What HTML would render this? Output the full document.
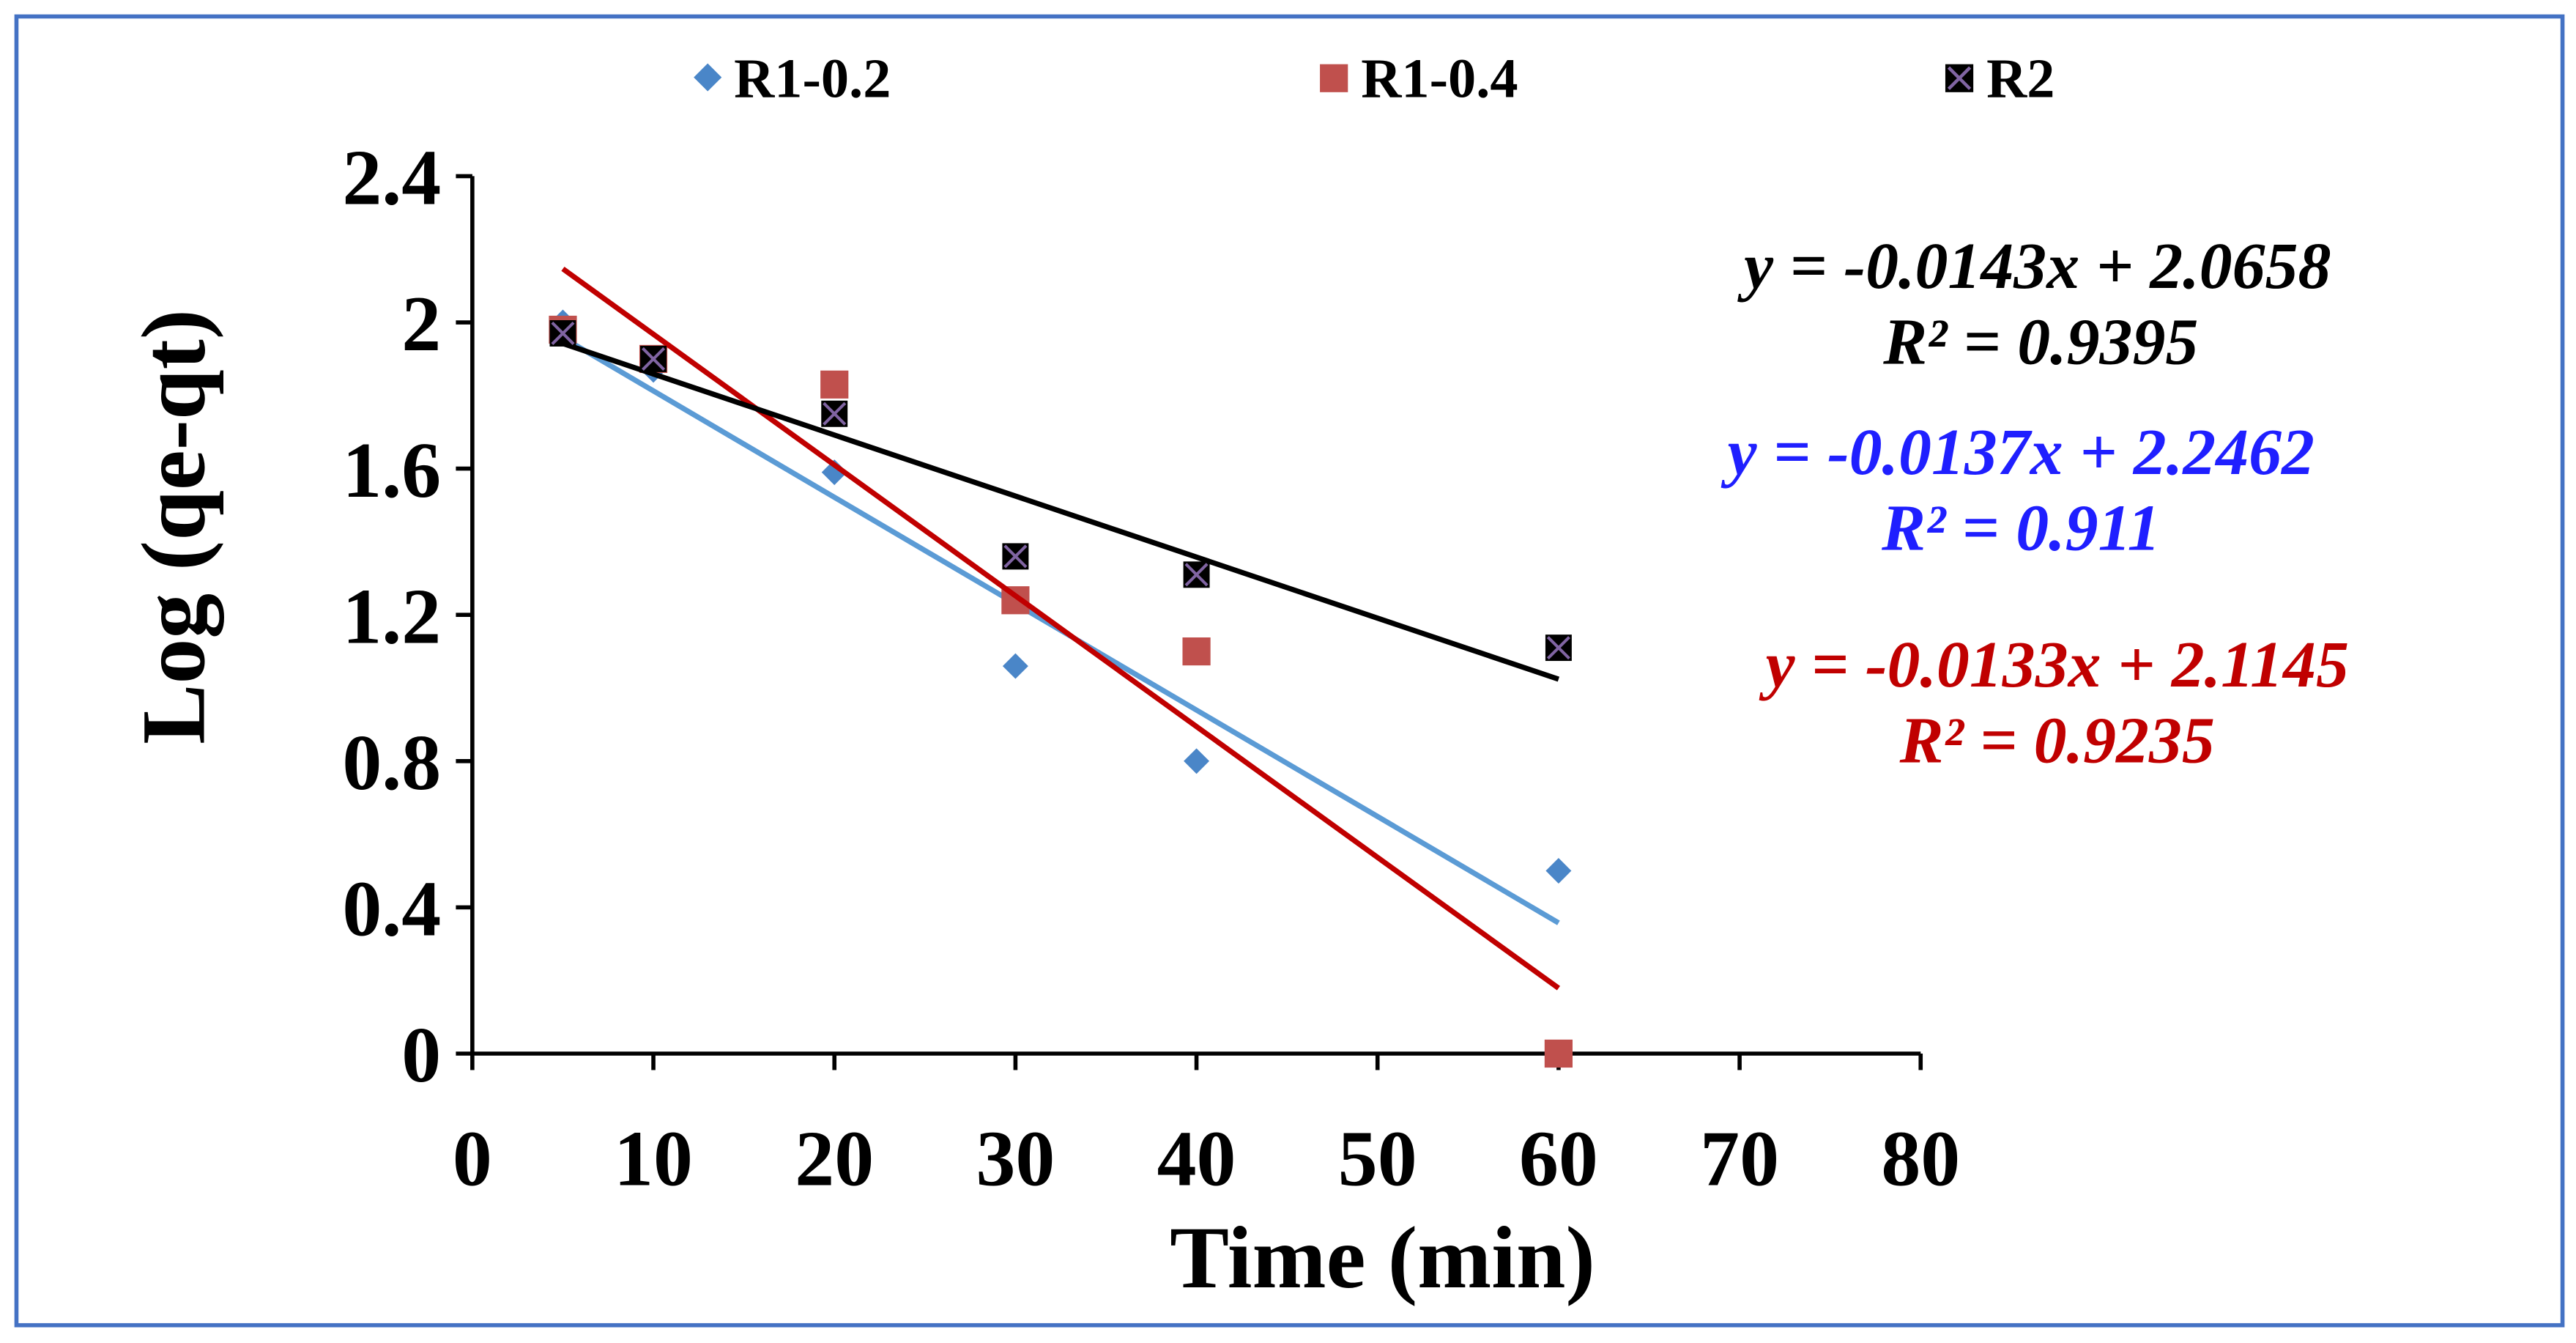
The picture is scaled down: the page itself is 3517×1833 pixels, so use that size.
<!DOCTYPE html>
<html><head><meta charset="utf-8"><style>
html,body{margin:0;padding:0;background:#fff;}
svg{display:block;}
text{font-family:"Liberation Serif",serif;font-weight:bold;}
</style></head><body>
<svg id="chart" width="3517" height="1833" viewBox="0 0 1565.2 815.8" preserveAspectRatio="none">
<rect x="10" y="10" width="1547" height="795" fill="#fff" stroke="#4472C4" stroke-width="2.5"/>
<g id="axes"></g>
<g id="marks"></g>
<g>
 <rect x="424" y="41" width="12" height="12" fill="#4A86C8" transform="rotate(45 430 47)"/>
 <text x="446" y="59" font-size="34">R1-0.2</text>
 <rect x="802" y="39" width="17" height="17" fill="#C0504D"/>
 <text x="827" y="59" font-size="34">R1-0.4</text>
 <rect x="1182" y="39" width="17" height="17" fill="#000"/>
 <path d="M1184 41L1197 54M1197 41L1184 54" stroke="#8064A2" stroke-width="2"/>
 <text x="1207" y="59" font-size="34">R2</text>
</g>
<g font-style="italic" font-size="40" text-anchor="middle">
 <text x="1238" y="175" fill="#000">y = -0.0143x + 2.0658</text>
 <text x="1240" y="221" fill="#000">R² = 0.9395</text>
 <text x="1228" y="288" fill="#1F1FFF">y = -0.0137x + 2.2462</text>
 <text x="1228" y="334" fill="#1F1FFF">R² = 0.911</text>
 <text x="1250" y="417" fill="#C00000">y = -0.0133x + 2.1145</text>
 <text x="1250" y="463" fill="#C00000">R² = 0.9235</text>
</g>
<text x="840" y="782" font-size="54" text-anchor="middle">Time (min)</text>
<text transform="translate(124 320) rotate(-90)" font-size="55" text-anchor="middle">Log (qe-qt)</text>
</svg>
<script>
const xTicks=[0,10,20,30,40,50,60,70,80];
const yTicks=[0,0.4,0.8,1.2,1.6,2,2.4];
const yTickLabels=["0","0.4","0.8","1.2","1.6","2","2.4"];
const times=[5,10,20,30,40,60];
const r1_02=[2.0,1.87,1.59,1.06,0.80,0.50];
const r1_04=[1.98,1.90,1.83,1.24,1.10,0.0];
const r2=[1.97,1.90,1.75,1.36,1.31,1.11];

const NS="http://www.w3.org/2000/svg";
const X=v=>287+v*(1167-287)/80;
const Y=v=>640-v*(640-107)/2.4;
const axes=document.getElementById('axes');
const marks=document.getElementById('marks');
function mk(tag,attrs,parent){const e=document.createElementNS(NS,tag);for(const k in attrs)e.setAttribute(k,attrs[k]);parent.appendChild(e);return e;}

let a=mk('line',{x1:X(0),y1:Y(0),x2:X(80),y2:Y(0),stroke:'#000','stroke-width':2.5},axes);


a=mk('line',{x1:X(0),y1:Y(0),x2:X(0),y2:Y(2.4),stroke:'#000','stroke-width':2.5},axes);


xTicks.forEach(t=>{
 const l=mk('line',{x1:X(t),y1:Y(0),x2:X(t),y2:Y(0)+10,stroke:'#000','stroke-width':2.5},axes);
 
 
 const tx=mk('text',{x:X(t),y:720,'font-size':48,'text-anchor':'middle'},axes);tx.textContent=t;
 
 
});
yTicks.forEach((t,i)=>{
 const l=mk('line',{x1:X(0)-10,y1:Y(t),x2:X(0),y2:Y(t),stroke:'#000','stroke-width':2.5},axes);
 
 
 const tx=mk('text',{x:268,y:Y(t)+17,'font-size':48,'text-anchor':'end'},axes);tx.textContent=yTickLabels[i];
 
 
});
function fit(xs,ys){const n=xs.length;const mx=xs.reduce((s,v)=>s+v,0)/n,my=ys.reduce((s,v)=>s+v,0)/n;let sxy=0,sxx=0;xs.forEach((x,i)=>{sxy+=(x-mx)*(ys[i]-my);sxx+=(x-mx)*(x-mx);});const m=sxy/sxx;return [m,my-m*mx];}
function trend(ys,color,name){const [m,b]=fit(times,ys);const x0=times[0],x1=times[times.length-1];
 const l=mk('line',{x1:X(x0),y1:Y(m*x0+b),x2:X(x1),y2:Y(m*x1+b),stroke:color,'stroke-width':3.2},marks);
 
 }
times.forEach((t,i)=>{const cx=X(t),cy=Y(r1_02[i]);
 const d=mk('rect',{x:cx-5.5,y:cy-5.5,width:11,height:11,fill:'#4A86C8',transform:`rotate(45 ${cx} ${cy})`},marks);
 
 });
trend(r1_02,'#5B9BD5','trendline-r1-0.2');
times.forEach((t,i)=>{const cx=X(t),cy=Y(r1_04[i]);
 const d=mk('rect',{x:cx-8.5,y:cy-8.5,width:17,height:17,fill:'#C0504D'},marks);
 
 });
trend(r1_04,'#C00000','trendline-r1-0.4');
trend(r2,'#000','trendline-r2');
times.forEach((t,i)=>{const cx=X(t),cy=Y(r2[i]);
 const d=mk('rect',{x:cx-8,y:cy-8,width:16,height:16,fill:'#000'},marks);
 
 
 const p=mk('path',{d:`M${cx-6.5} ${cy-6.5}L${cx+6.5} ${cy+6.5}M${cx+6.5} ${cy-6.5}L${cx-6.5} ${cy+6.5}`,stroke:'#8064A2','stroke-width':1.8},marks);
 
 });
</script>
</body></html>
